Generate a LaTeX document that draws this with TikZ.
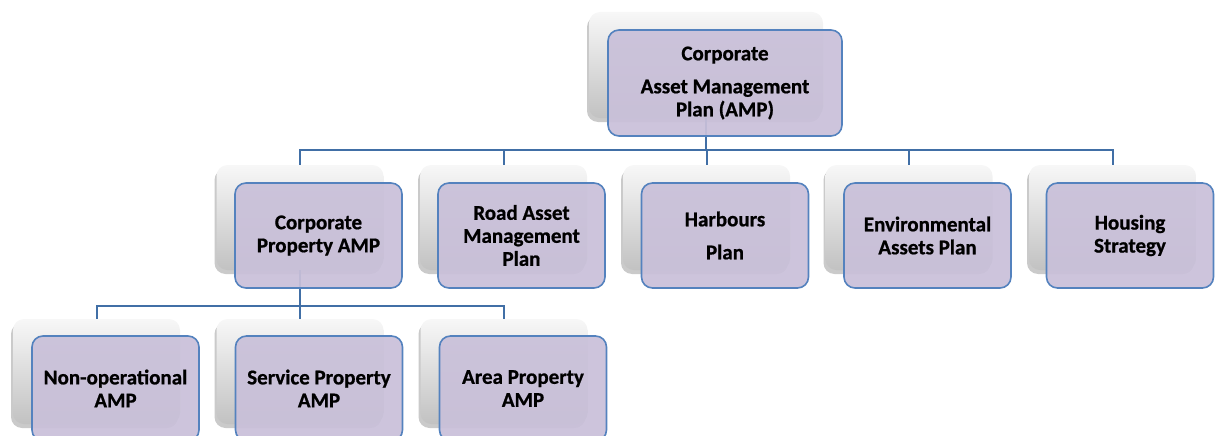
\documentclass[tikz,border=0pt]{standalone}
\usepackage{fontspec}
\setmainfont{Carlito}[BoldFeatures={FakeBold=0.8}]
\usetikzlibrary{shadows}
\definecolor{lineblue}{HTML}{416FA6}
\definecolor{edgeblue}{HTML}{5482BE}
\definecolor{lilac}{HTML}{C9C0D9}
\tikzset{
  backbox/.style={rounded corners=11pt, minimum width=167pt, minimum height=105pt,
    inner sep=0pt, top color=white!97!black, middle color=white!94!black, bottom color=white!76!black,
    drop shadow={shadow xshift=-2pt, shadow yshift=-4pt, opacity=0.35, fill=black!60}},
  frontbox/.style={rounded corners=11pt, minimum width=167pt, minimum height=105pt,
    inner sep=0pt, draw=edgeblue, line width=1.6pt, fill=lilac, fill opacity=0.93, text opacity=1,
    align=center, font=\fontsize{21}{23}\selectfont\bfseries},
  conn/.style={draw=lineblue, line width=2pt},
}
\begin{document}
\begin{tikzpicture}[x=1pt,y=-1pt]
\useasboundingbox (0,0) rectangle (1221,436);
% back boxes
\node[backbox, minimum width=234pt, minimum height=106pt] (topb) at (706,65) {};
\node[backbox] (cpb) at (300,217.5) {};
\node[backbox] (rdb) at (503.5,217.5) {};
\node[backbox] (hbb) at (706.5,217.5) {};
\node[backbox] (evb) at (909,217.5) {};
\node[backbox] (hsb) at (1112.5,217.5) {};
\node[backbox] (nob) at (96.5,371.5) {};
\node[backbox] (spb) at (300,371.5) {};
\node[backbox] (apb) at (504,371.5) {};
% connectors
\foreach \c in {cpb,rdb,hbb,evb,hsb}
  \draw[conn] (topb.south) -- ++(0,32) -| (\c.north);
\foreach \c in {nob,spb,apb}
  \draw[conn] (cpb.south) -- ++(0,36) -| (\c.north);
% front boxes
\node[frontbox, minimum width=234pt, minimum height=106pt] (topf) at (725,83) {Corporate\\[10pt]Asset Management\\Plan (AMP)};
\node[frontbox] (cpf) at (318.5,235.5) {Corporate\\Property AMP};
\node[frontbox] (rdf) at (521.5,235.5) {Road Asset\\Management\\Plan};
\node[frontbox] (hbf) at (725,235.5) {Harbours\\[10pt]Plan};
\node[frontbox] (evf) at (927.5,235.5) {Environmental\\Assets Plan};
\node[frontbox] (hsf) at (1130,235.5) {Housing\\Strategy};
\node[frontbox] (nof) at (115.5,388.5) {Non-operational\\AMP};
\node[frontbox] (spf) at (319,388.5) {Service Property\\AMP};
\node[frontbox] (apf) at (523,388.5) {Area Property\\AMP};
\end{tikzpicture}
\end{document}
